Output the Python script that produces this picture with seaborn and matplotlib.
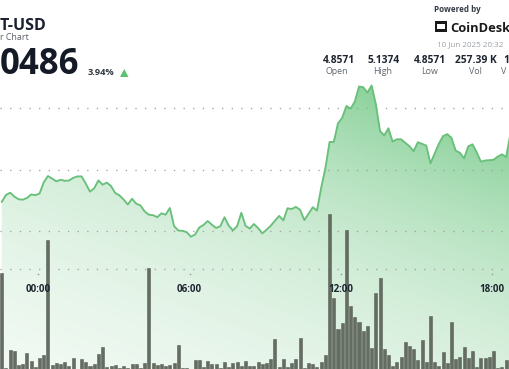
import numpy as np
import pandas as pd
import matplotlib
matplotlib.use("Agg")
import matplotlib.pyplot as plt
from matplotlib.patches import Polygon, Rectangle
import seaborn as sns

# ---------------- data ----------------
times = pd.date_range("2025-06-09 22:33", periods=122, freq="10min")
price = [
    4.9473, 4.9587, 4.9624, 4.9561, 4.9518, 4.9510, 4.9538, 4.9595, 4.9584, 4.9611,
    4.9794, 4.9896, 4.9854, 4.9810, 4.9835, 4.9818, 4.9823, 4.9866, 4.9890, 4.9890,
    4.9771, 4.9641, 4.9696, 4.9825, 4.9755, 4.9789, 4.9733, 4.9619, 4.9582, 4.9513,
    4.9432, 4.9526, 4.9445, 4.9417, 4.9319, 4.9266, 4.9258, 4.9225, 4.9288, 4.9266,
    4.9375, 4.9081, 4.9008, 4.9003, 4.8982, 4.8907, 4.8943, 4.9057, 4.9098, 4.9163,
    4.9103, 4.9049, 4.9078, 4.9225, 4.9088, 4.9011, 4.9078, 4.9297, 4.9086, 4.9039,
    4.9114, 4.9047, 4.8962, 4.9021, 4.9086, 4.9168, 4.9246, 4.9174, 4.9370, 4.9359,
    4.9393, 4.9344, 4.9178, 4.9282, 4.9388, 4.9333, 4.9703, 5.0024, 5.0451, 5.0451,
    5.0755, 5.0845, 5.1037, 5.0995, 5.1109, 5.1355, 5.1344, 5.1256, 5.1372, 5.1070,
    5.0630, 5.0558, 5.0674, 5.0457, 5.0495, 5.0495, 5.0438, 5.0382, 5.0301, 5.0447,
    5.0421, 5.0392, 5.0102, 5.0262, 5.0421, 5.0547, 5.0579, 5.0519, 5.0311, 5.0275,
    5.0185, 5.0381, 5.0413, 5.0284, 5.0130, 5.0149, 5.0154, 5.0161, 5.0213, 5.0250,
    5.0206, 5.0575,
]
volume_k = [
    9.6, 0.1, 1.9, 1.8, 0.4, 0.5, 1.57, 0.8, 0.23, 1.07,
    1.37, 12.9, 0.4, 0.57, 0.47, 0.67, 0.3, 1.13, 0.05, 0.97,
    0.67, 0.27, 0.5, 1.5, 2.17, 0.17, 0.33, 0.37, 0.1, 0.27,
    0.13, 0.5, 0.47, 0.1, 0.57, 10.07, 0.57, 0.4, 0.47, 0.3,
    0.37, 0.57, 2.4, 0.1, 0.1, 0.05, 0.87, 0.87, 0.23, 0.77,
    0.5, 0.47, 0.13, 0.67, 0.23, 0.57, 0.7, 0.27, 0.77, 0.27,
    0.3, 0.73, 0.5, 0.57, 0.97, 2.97, 0.23, 0.97, 0.23, 0.57,
    1.03, 3.1, 0.1, 0.57, 0.47, 0.17, 0.67, 1.4, 15.5, 7.13,
    3.97, 4.57, 13.9, 6.33, 5.17, 4.73, 3.8, 4.33, 2.13, 7.6,
    9.07, 2.03, 1.4, 0.3, 0.73, 1.17, 2.73, 2.33, 2.0, 0.87,
    2.87, 0.7, 5.27, 0.67, 0.33, 1.67, 0.63, 4.73, 0.97, 1.23,
    2.17, 1.1, 1.77, 0.17, 1.13, 1.1, 1.23, 1.77, 0.13, 0.2,
    0.9, 0.63,
]
tick_hours = [0, 6, 12, 18]
tick_labels = ["00:00", "06:00", "12:00", "18:00"]
grid_prices = [5.1, 5.0, 4.9]
grid_volume = [10]
stat_values = ["4.8571", "5.1374", "4.8571", "257.39 K"]
stat_labels = ["Open", "High", "Low", "Vol"]

# ---------------- style ----------------
sns.set_theme(style="white")
plt.rcParams["font.family"] = ["Open Sans", "DejaVu Sans"]

W, H = 510, 369
fig = plt.figure(figsize=(W / 100, H / 100), dpi=100)
fig.patch.set_facecolor("white")
ax = fig.add_axes([0, 0, 1, 1])
ax.axis("off")

hours = np.asarray((times - pd.Timestamp("2025-06-10 00:00")) / pd.Timedelta(hours=1))
df = pd.DataFrame({"hours": hours, "price": price, "volume": volume_k,
                   "slot": [t.strftime("%H:%M") for t in times]})

XLIM = (-1.5186, 18.704)
YLIM = (4.6751, 5.2765)

# price fill with gradient
poly = ax.fill_between(df["hours"], df["price"], YLIM[0], facecolor="none", edgecolor="none")
yy, xx = np.mgrid[0:H, 0:W]
d = (yy - 85) + 0.38 * (W - xx)
alpha = np.clip(0.95 * np.exp(-d / 215.0) - 0.02, 0.04, 0.75)
img = np.zeros((H, W, 4))
img[..., 0] = 92 / 255
img[..., 1] = 191 / 255
img[..., 2] = 114 / 255
img[..., 3] = alpha
im = ax.imshow(img, extent=(XLIM[0], XLIM[1], YLIM[0], YLIM[1]), origin="upper",
               aspect="auto", zorder=1, interpolation="bilinear")
im.set_clip_path(poly.get_paths()[0], ax.transData)

for g in grid_prices:
    ax.axhline(g, color="#a3a3a3", lw=0.95, ls=(0, (1, 6.3)), zorder=2)

sns.lineplot(data=df, x="hours", y="price", ax=ax, color="#68c07a", lw=1.35, zorder=3)
ax.set_xlim(*XLIM)
ax.set_ylim(*YLIM)
ax.axis("off")

# volume bars on an overlaid axes (categorical slots)
ax2 = fig.add_axes([0, 0, 1, 1])
ax2.patch.set_alpha(0)
for g in grid_volume:
    ax2.axhline(g, color="#a3a3a3", lw=0.95, ls=(0, (1, 6.3)), zorder=0)
sns.barplot(data=df, x="slot", y="volume", width=0.72, color="#656c62",
            saturation=1, ax=ax2, zorder=2, edgecolor="#5a6157", linewidth=0.4)
k_per_hour = 6.0
ax2.set_xlim((XLIM[0] - hours[0]) * k_per_hour, (XLIM[1] - hours[0]) * k_per_hour)
ax2.set_ylim(0, 36.9)
ax2.axis("off")

# time ticks (on top of bars)
ax3 = fig.add_axes([0, 0, 1, 1])
ax3.patch.set_alpha(0)
ax3.set_xlim(*XLIM)
ax3.set_ylim(0, 1)
ax3.axis("off")
for h, lab in zip(tick_hours, tick_labels):
    ax3.text(h, 1 - 289 / H, lab, ha="center", va="center",
             fontsize=7, fontweight="bold", color="#1f2633", zorder=10)
    ax3.plot([h], [1 - 274 / H], marker="o", ms=1.2, color="#9a9a9a", mec="none", zorder=10)


def ftext(x, y, s, **kw):
    fig.text(x / W, 1 - y / H, s, **kw)


# header left
ftext(0, 30, "T-USD", fontsize=11.5, fontweight="bold", color="#1a2030", va="baseline")
ftext(0, 40, "r Chart", fontsize=6.4, color="#5a616b", va="baseline")
ftext(0, 74.5, "0486", fontsize=25, fontweight="bold", color="#151b26", va="baseline")
ftext(88, 75, "3.94%", fontsize=6.7, fontweight="bold", color="#333a44", va="baseline")
tri = Polygon([[120 / W, 1 - 77 / H], [128.5 / W, 1 - 77 / H], [124.25 / W, 1 - 69 / H]],
              closed=True, transform=fig.transFigure, facecolor="#5cbf72", edgecolor="none")
fig.patches.append(tri)

# header right
ftext(434, 12, "Powered by", fontsize=5.8, fontweight="bold", color="#333a44", va="baseline")
for (rx, ry, rw, rh) in [(435, 21.5, 2.2, 10), (445, 21.5, 2.2, 10), (435, 21.5, 12.2, 2.2), (435, 29.3, 12.2, 2.2)]:
    fig.patches.append(Rectangle((rx / W, 1 - (ry + rh) / H), rw / W, rh / H,
                                 transform=fig.transFigure, facecolor="#1a1a1a", edgecolor="none"))
ftext(450, 31.7, "CoinDesk", fontsize=9.3, fontweight="bold", color="#1a1a1a", va="baseline")
ftext(437, 46.5, "10 Jun 2025 20:32", fontsize=5.8, color="#9aa0a6", va="baseline")

val_x = [338.5, 384, 429.5, 475.8]
lab_x = [336.7, 383, 429.5, 475.5]
for vx, lx, v, l in zip(val_x, lab_x, stat_values, stat_labels):
    ftext(vx, 63, v, fontsize=7.4, fontweight="bold", color="#1e2530", ha="center", va="baseline")
    ftext(lx, 74, l, fontsize=6.4, color="#5f6670", ha="center", va="baseline")
ftext(503.5, 63, "1", fontsize=7.4, fontweight="bold", color="#1e2530", va="baseline")
ftext(501.5, 74, "V", fontsize=6.4, color="#5f6670", va="baseline")

fig.savefig("out.png", dpi=100, facecolor="white")
